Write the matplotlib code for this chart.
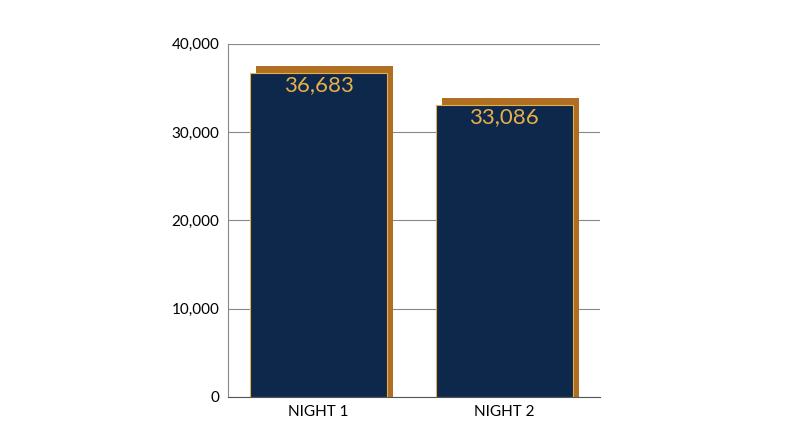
import matplotlib
matplotlib.use("Agg")
import matplotlib.pyplot as plt

categories = ["NIGHT 1", "NIGHT 2"]
values = [36683, 33086]
yticks = [0, 10000, 20000, 30000, 40000]

plt.rcParams['font.family'] = ['Lato', 'DejaVu Sans']
fig = plt.figure(figsize=(8, 4.47), dpi=100)
ax = fig.add_axes([0.285, 0.112, 0.465, 0.79])
x = list(range(len(categories)))
w = 0.738
dx, dy = 0.034, 800
ax.bar([i + dx for i in x], [v + dy for v in values], width=w, color="#B06E22", zorder=2)
ax.bar(x, values, width=w, color="#0E284C", edgecolor="#E3B04B", linewidth=0.8, zorder=3)
for i, v in zip(x, values):
    ax.text(i, v - 1400, f"{v:,}", ha="center", va="center", color="#E8B04A", fontsize=16, zorder=4)
ax.set_xlim(-0.488, 1.517)
ax.set_ylim(0, 40000)
ax.set_yticks(yticks)
ax.set_yticklabels([f"{t:,}" for t in yticks], fontsize=11)
ax.set_xticks(x)
ax.set_xticklabels(categories, fontsize=11)
ax.tick_params(length=0, pad=6)
ax.yaxis.grid(True, color="#888888", linewidth=0.8, zorder=0)
for s in ["top", "right"]:
    ax.spines[s].set_visible(False)
ax.spines["left"].set_color("#888888")
ax.spines["bottom"].set_color("#555555")
fig.savefig("out.png", dpi=100)
